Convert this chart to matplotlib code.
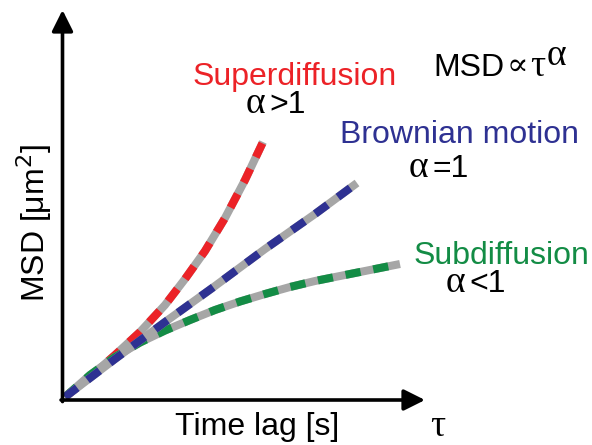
import numpy as np
import matplotlib
matplotlib.use("Agg")
import matplotlib.pyplot as plt

W, H = 592, 445

# MSD curves (arbitrary units)
tau_super = [0, 0.25, 0.50, 0.75, 1.00, 1.20, 1.40, 1.60, 1.80, 1.98]
msd_super = [0, 0.20, 0.42, 0.65, 0.92, 1.18, 1.46, 1.79, 2.17, 2.55]

tau_brown = [0, 0.5, 1.0, 1.5, 2.0, 2.5, 2.92]
msd_brown = [0, 0.38, 0.75, 1.11, 1.48, 1.83, 2.14]

tau_sub = [0, 0.25, 0.5, 0.75, 1.0, 1.25, 1.5, 1.75, 2.0, 2.25, 2.5, 2.75, 3.05, 3.35]
msd_sub = [0, 0.22, 0.40, 0.545, 0.665, 0.77, 0.87, 0.955, 1.03, 1.10, 1.16, 1.21, 1.27, 1.33]

RED = "#ec2227"
BLUE = "#2e3192"
GREEN = "#138c45"
GREY = "#a6a6a6"

SANS = ["Liberation Sans", "DejaVu Sans"]
SERIF = ["Liberation Serif", "DejaVu Serif"]
FS = 23
FG = 27  # greek letters


def px(x, y):
    return x / W, 1 - y / H


fig = plt.figure(figsize=(W / 100, H / 100), dpi=100)
ax = fig.add_axes([62.5 / W, 45 / H, 362.5 / W, 390 / H])
ax.set_xlim(-0.025, 3.60)
ax.set_ylim(-0.03, 3.87)
ax.axis("off")

# axes with arrow heads
arrow = dict(arrowstyle="-|>", mutation_scale=32, lw=2.6, color="black",
             shrinkA=0, shrinkB=0)
ax.annotate("", xy=(1, 0), xytext=(-0.004, 0), xycoords="axes fraction",
            arrowprops=arrow, annotation_clip=False)
ax.annotate("", xy=(0, 1), xytext=(0, -0.004), xycoords="axes fraction",
            arrowprops=arrow, annotation_clip=False)

lw = 5.8
for t, m, c in [(tau_super, msd_super, RED), (tau_sub, msd_sub, GREEN),
                (tau_brown, msd_brown, BLUE)]:
    ax.plot(t, m, color=GREY, lw=lw, solid_capstyle="butt",
            solid_joinstyle="round", clip_on=False)
    ax.plot(t, m, color=c, lw=lw, ls=(0, (1.9, 1.6)), dash_capstyle="butt",
            dash_joinstyle="round", clip_on=False)

# curve labels
fig.text(*px(295, 85), "Superdiffusion", color=RED, fontsize=FS, family=SANS,
         ha="center", va="baseline")
fig.text(*px(459, 143), "Brownian motion", color=BLUE, fontsize=FS, family=SANS,
         ha="center", va="baseline")
fig.text(*px(501, 264), "Subdiffusion", color=GREEN, fontsize=FS, family=SANS,
         ha="center", va="baseline")

for x0, y0, rest in [(246, 113, ">1"), (409, 177, "=1"), (446, 292, "<1")]:
    fig.text(*px(x0, y0), "\u03b1", fontsize=FG, family=SERIF, ha="left", va="baseline")
    fig.text(*px(x0 + 23, y0), rest, fontsize=FS, family=SANS, ha="left", va="baseline")

# scaling law
fig.text(*px(433, 76), "MSD", fontsize=FS, family=SANS, ha="left", va="baseline")
fig.text(*px(507, 75), "\u221d", fontsize=FS, family=SERIF, ha="left", va="baseline")
fig.text(*px(530, 76), "\u03c4", fontsize=FG, family=SERIF, ha="left", va="baseline")
fig.text(*px(547, 65), "\u03b1", fontsize=FG, family=SERIF, ha="left", va="baseline")

# axis labels
fig.text(*px(257, 435), "Time lag [s]", fontsize=FS, family=SANS,
         ha="center", va="baseline")
fig.text(*px(438, 436), "\u03c4", fontsize=FG, family=SERIF,
         ha="center", va="baseline")
fig.text(*px(34, 223), "MSD [\u03bcm$^2$]", fontsize=FS, family=SANS,
         rotation=90, ha="center", va="center")

fig.savefig("out.png", dpi=100)
